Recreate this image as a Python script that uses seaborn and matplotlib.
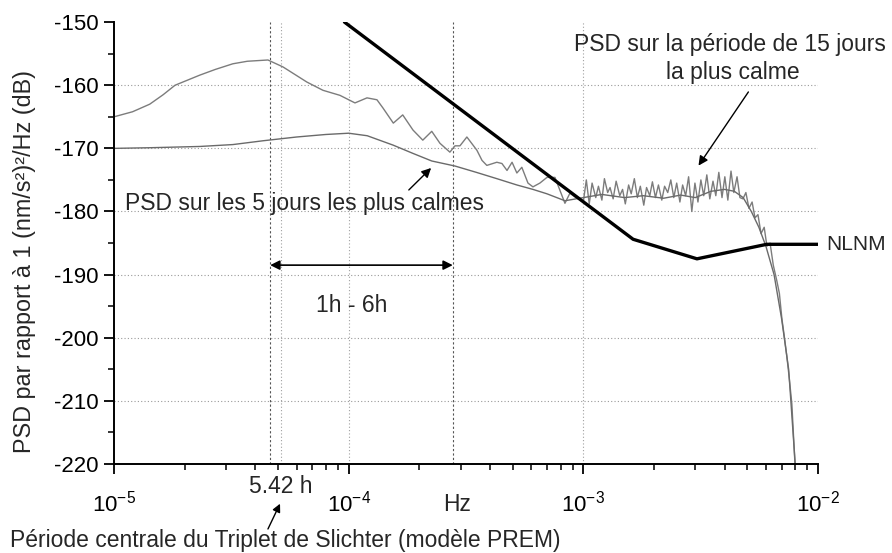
import numpy as np
import pandas as pd
import matplotlib
matplotlib.use("Agg")
import matplotlib.pyplot as plt
import seaborn as sns

# ---------------- data ----------------
# PSD over the quietest 15-day period (Hz, dB)
freq_15 = [1.00e-5, 1.20e-5, 1.42e-5, 1.62e-5, 1.82e-5, 2.32e-5, 2.70e-5, 3.21e-5, 3.70e-5,
           4.53e-5, 5.25e-5, 6.64e-5, 7.77e-5, 9.18e-5, 1.064e-4, 1.197e-4, 1.32e-4,
           1.40e-4, 1.55e-4, 1.70e-4, 1.88e-4, 2.07e-4, 2.26e-4,
           2.45e-4, 2.70e-4, 2.84e-4, 2.98e-4, 3.19e-4, 3.52e-4, 3.70e-4, 3.88e-4, 4.28e-4,
           4.50e-4, 4.73e-4, 4.97e-4, 5.21e-4, 5.47e-4, 5.81e-4, 6.10e-4, 6.53e-4, 7.00e-4,
           7.57e-4, 8.35e-4, 8.77e-4, 9.21e-4,
           1.00e-3, 1.03e-3, 1.06e-3, 1.09e-3, 1.13e-3, 1.16e-3, 1.20e-3, 1.23e-3, 1.27e-3,
           1.30e-3, 1.34e-3, 1.38e-3, 1.43e-3, 1.47e-3, 1.51e-3, 1.56e-3, 1.60e-3, 1.65e-3,
           1.70e-3, 1.75e-3, 1.81e-3, 1.86e-3, 1.92e-3, 1.97e-3, 2.03e-3, 2.09e-3, 2.16e-3,
           2.22e-3, 2.29e-3, 2.36e-3, 2.43e-3, 2.50e-3, 2.58e-3, 2.65e-3, 2.73e-3, 2.81e-3,
           2.90e-3, 2.99e-3, 3.08e-3, 3.17e-3, 3.26e-3, 3.36e-3, 3.46e-3, 3.57e-3, 3.67e-3,
           3.78e-3, 3.90e-3, 4.01e-3, 4.13e-3, 4.26e-3, 4.38e-3, 4.52e-3, 4.65e-3, 4.79e-3,
           4.93e-3, 5.08e-3, 5.24e-3, 5.39e-3, 5.55e-3, 5.72e-3, 5.90e-3, 6.06e-3, 6.25e-3,
           6.45e-3, 6.68e-3, 6.85e-3, 7.02e-3, 7.20e-3, 7.37e-3, 7.55e-3, 7.74e-3, 7.98e-3,
           8.20e-3]
psd_15 = [-165.0, -164.2, -163.0, -161.5, -160.0, -158.4, -157.5, -156.6, -156.2,
          -156.0, -157.1, -159.5, -160.8, -161.6, -162.8, -162.0, -162.3,
          -163.6, -166.0, -164.7, -167.1, -168.7, -167.3,
          -169.2, -170.6, -169.6, -169.6, -168.2, -170.3, -171.9, -172.7, -172.2,
          -172.4, -173.5, -172.2, -173.9, -173.0, -175.5, -176.1, -175.5, -174.6,
          -174.6, -178.7, -177.1, -177.7,
          -178.5, -175.0, -178.8, -175.5, -177.8, -176.0, -178.2, -174.8, -177.0,
          -176.2, -178.0, -175.2, -177.5, -176.5, -178.8, -175.8, -177.2, -174.8,
          -177.8, -176.0, -179.0, -176.2, -177.5, -175.3, -177.8, -175.8, -178.2,
          -176.0, -177.0, -175.0, -177.8, -175.5, -178.5, -175.8, -177.5, -174.5,
          -180.0, -175.5, -178.5, -175.0, -177.5, -174.2, -178.0, -175.2, -177.5,
          -173.8, -177.8, -174.5, -178.2, -173.6, -177.0, -174.5, -177.8, -178.0,
          -177.0, -179.5, -178.5, -181.0, -180.5, -183.5, -182.5, -185.5, -185.0,
          -188.5, -191.0, -193.0, -197.0, -200.0, -203.0, -206.5, -210.5, -220.0,
          -226.0]

# PSD over the 5 quietest days (Hz, dB)
freq_5 = [1.00e-5, 1.42e-5, 2.32e-5, 3.21e-5, 4.31e-5, 6.00e-5, 8.00e-5, 1.00e-4, 1.20e-4,
          1.55e-4, 1.88e-4, 2.26e-4, 2.84e-4, 3.50e-4, 4.28e-4, 5.21e-4, 6.10e-4, 7.00e-4,
          8.35e-4, 1.00e-3, 1.20e-3, 1.50e-3, 1.80e-3, 2.20e-3, 2.60e-3, 3.00e-3, 3.50e-3,
          4.00e-3, 4.40e-3, 4.80e-3, 5.20e-3, 5.60e-3, 6.00e-3, 6.50e-3, 7.00e-3, 7.50e-3,
          8.00e-3, 8.20e-3]
psd_5 = [-170.0, -169.9, -169.7, -169.4, -168.8, -168.2, -167.8, -167.6, -168.0,
         -169.5, -170.8, -172.0, -172.8, -173.8, -174.8, -175.8, -176.5, -177.2,
         -178.3, -177.8, -177.3, -177.8, -177.5, -177.9, -177.4, -177.8, -176.8,
         -176.5, -176.8, -177.8, -180.0, -182.5, -185.5, -190.0, -197.0, -205.0,
         -220.0, -226.0]

# New Low Noise Model (Hz, dB)
freq_nlnm = [9.6e-5, 1.63e-3, 3.05e-3, 6.05e-3, 1.0e-2]
psd_nlnm = [-150.0, -184.4, -187.5, -185.2, -185.2]

# reference periods (Hz)
f_6h = 1 / (6 * 3600)
f_542h = 1 / (5.42 * 3600)
f_1h = 1 / 3600

df15 = pd.DataFrame({"f": freq_15, "psd": psd_15})
df5 = pd.DataFrame({"f": freq_5, "psd": psd_5})
dfn = pd.DataFrame({"f": freq_nlnm, "psd": psd_nlnm})

# ---------------- style ----------------
sns.set_theme(style="white")
plt.rcParams["font.family"] = ["Liberation Sans", "DejaVu Sans"]
plt.rcParams["axes.unicode_minus"] = False
plt.rcParams["mathtext.fontset"] = "custom"
plt.rcParams["mathtext.rm"] = "Liberation Sans"
plt.rcParams["mathtext.it"] = "Liberation Sans"
plt.rcParams["mathtext.default"] = "regular"

FS = 16.5

fig = plt.figure(figsize=(8.92, 5.53), dpi=100)
ax = fig.add_axes([0.1278, 0.161, 0.7892, 0.799])

gray = "#7c7c7c"
sns.lineplot(data=df15, x="f", y="psd", ax=ax, color=gray, lw=1.0, sort=False, estimator=None)
sns.lineplot(data=df5, x="f", y="psd", ax=ax, color="#6a6a6a", lw=1.0, sort=False, estimator=None)
sns.lineplot(data=dfn, x="f", y="psd", ax=ax, color="black", lw=2.4, sort=False, estimator=None)

ax.set_xscale("log")
ax.set_xlim(1e-5, 1e-2)
ax.set_ylim(-220, -150)
ax.set_xlabel("")
ax.set_ylabel("")

# grid
for yv in range(-210, -150, 10):
    ax.axhline(yv, color="#9a9a9a", lw=0.8, ls=(0, (1, 2)), zorder=0)
for xv in [1e-4, 1e-3, f_542h]:
    ax.axvline(xv, color="#a0a0a0", lw=0.8, ls=(0, (1, 2)), zorder=0)
for xv in [f_6h, f_1h]:
    ax.axvline(xv, color="#555555", lw=0.8, ls=(0, (2, 2)), zorder=0)

# spines and ticks
for s in ["top", "right"]:
    ax.spines[s].set_visible(False)
for s in ["left", "bottom"]:
    ax.spines[s].set_color("black")
    ax.spines[s].set_linewidth(1.4)
ax.set_yticks(range(-220, -149, 10))
ax.set_yticks(range(-215, -150, 10), minor=True)
ax.set_xticks([1e-5, 1e-4, 1e-3, 1e-2])
ax.set_xticklabels([r"$10^{-5}$", r"$10^{-4}$", r"$10^{-3}$", r"$10^{-2}$"])
ax.tick_params(axis="both", which="major", direction="out", length=7, width=1.3,
               colors="black", labelsize=16, bottom=True, left=True)
ax.tick_params(axis="both", which="minor", direction="out", length=4, width=1.1,
               colors="black", bottom=True, left=True)
ax.tick_params(axis="x", which="major", pad=12)
ax.tick_params(axis="y", which="major", pad=4)
ax.tick_params(axis="x", which="minor", labelbottom=False)

# labels
fig.text(0.027, 0.528, "PSD par rapport à 1 (nm/s²)²/Hz (dB)", rotation=90,
         ha="center", va="center", fontsize=16.8)
fig.text(0.512, 0.087, "Hz", ha="center", va="center", fontsize=FS)

# annotations
ax.text(4.2e-3, -153.6, "PSD sur la période de 15 jours", ha="center", va="center",
        fontsize=FS)
ax.text(4.33e-3, -158.0, "la plus calme", ha="center", va="center", fontsize=FS)
ax.annotate("", xy=(3.05e-3, -173.1), xytext=(5.13e-3, -160.7),
            arrowprops=dict(arrowstyle="-|>", color="black", lw=1.0, mutation_scale=14))
ax.text(6.51e-5, -178.7, "PSD sur les 5 jours les plus calmes", ha="center", va="center",
        fontsize=FS)
ax.annotate("", xy=(2.29e-4, -172.8), xytext=(1.77e-4, -176.9),
            arrowprops=dict(arrowstyle="-|>", color="black", lw=1.0, mutation_scale=14))
ax.annotate("", xy=(f_1h, -188.5), xytext=(f_6h, -188.5),
            arrowprops=dict(arrowstyle="<|-|>", color="black", lw=1.2, mutation_scale=14,
                            shrinkA=0, shrinkB=0))
ax.text(1.03e-4, -194.9, "1h - 6h", ha="center", va="center", fontsize=FS)
ax.text(1.085e-2, -185.2, "NLNM", ha="left", va="center", fontsize=15)
ax.text(f_542h, -223.6, "5.42 h", ha="center", va="center", fontsize=FS, clip_on=False)
ax.annotate("", xy=(5.1e-5, -226.3), xytext=(4.53e-5, -230.3), annotation_clip=False,
            arrowprops=dict(arrowstyle="-|>", color="black", lw=1.0, mutation_scale=12,
                            shrinkA=0, shrinkB=0))
fig.text(0.011, 0.0235, "Période centrale du Triplet de Slichter (modèle PREM)",
         ha="left", va="center", fontsize=FS)

fig.savefig("out.png", dpi=100)
